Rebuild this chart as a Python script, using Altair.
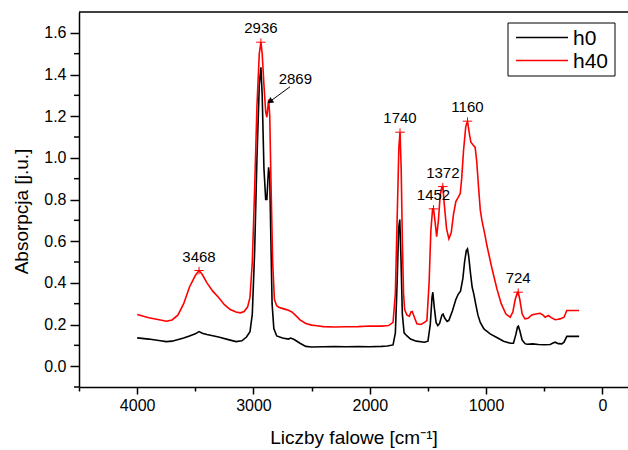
import altair as alt
import pandas as pd

# ---------------- data ----------------
series_names = ["h0", "h40"]
series_colors = ["#000000", "#ff0000"]

h0_x = [4000, 3900, 3800, 3750, 3700, 3600, 3550, 3500, 3468, 3440, 3400, 3300, 3200, 3150, 3100,
        3060, 3030, 3010, 2990, 2970, 2950, 2936, 2925, 2910, 2895, 2885, 2870, 2860, 2850, 2840,
        2825, 2800, 2750, 2700, 2680, 2650, 2600, 2550, 2500, 2400, 2300, 2200, 2100, 2000, 1900,
        1850, 1800, 1780, 1765, 1752, 1742, 1732, 1720, 1705, 1680, 1650, 1600, 1530, 1500, 1480,
        1465, 1458, 1445, 1430, 1415, 1400, 1380, 1370, 1355, 1335, 1320, 1290, 1260, 1240, 1220,
        1200, 1185, 1170, 1160, 1150, 1135, 1120, 1105, 1090, 1070, 1050, 1020, 1000, 965, 900,
        850, 821, 790, 765, 745, 730, 722, 710, 690, 665, 649, 600, 550, 500, 449, 420, 406, 380,
        349, 330, 306, 250, 200]
h0_y = [0.136, 0.130, 0.122, 0.118, 0.120, 0.135, 0.145, 0.155, 0.166, 0.158, 0.152, 0.140, 0.125,
        0.118, 0.122, 0.140, 0.165, 0.25, 0.55, 1.0, 1.35, 1.435, 1.30, 0.95, 0.80, 0.80, 0.955,
        0.90, 0.60, 0.30, 0.18, 0.145, 0.135, 0.130, 0.135, 0.128, 0.110, 0.095, 0.092, 0.093,
        0.094, 0.093, 0.094, 0.093, 0.095, 0.097, 0.102, 0.16, 0.40, 0.66, 0.704, 0.52, 0.25,
        0.16, 0.145, 0.130, 0.120, 0.115, 0.120, 0.20, 0.33, 0.355, 0.28, 0.21, 0.195, 0.205,
        0.245, 0.250, 0.230, 0.215, 0.220, 0.265, 0.320, 0.345, 0.360, 0.420, 0.500, 0.555,
        0.563, 0.530, 0.450, 0.380, 0.345, 0.300, 0.245, 0.210, 0.180, 0.170, 0.155, 0.135,
        0.120, 0.115, 0.110, 0.110, 0.150, 0.188, 0.192, 0.170, 0.125, 0.108, 0.105, 0.107,
        0.104, 0.103, 0.104, 0.112, 0.115, 0.108, 0.107, 0.115, 0.143, 0.143, 0.143]

h40_x = [4000, 3900, 3800, 3750, 3700, 3650, 3600, 3550, 3500, 3468, 3440, 3400, 3350, 3300, 3250,
         3200, 3150, 3113, 3080, 3050, 3030, 3010, 2990, 2970, 2950, 2936, 2925, 2910, 2895, 2885,
         2875, 2869, 2860, 2850, 2835, 2820, 2800, 2783, 2740, 2700, 2670, 2640, 2600, 2550, 2500,
         2454, 2400, 2300, 2200, 2100, 2000, 1900, 1838, 1800, 1780, 1765, 1750, 1740, 1730, 1720,
         1710, 1700, 1680, 1660, 1645, 1635, 1620, 1595, 1560, 1530, 1509, 1490, 1475, 1460, 1452,
         1440, 1425, 1410, 1395, 1380, 1372, 1360, 1340, 1320, 1300, 1280, 1260, 1240, 1222, 1210,
         1194, 1175, 1160, 1145, 1131, 1110, 1094, 1080, 1065, 1050, 1036, 1010, 993, 950, 907,
         870, 830, 793, 770, 750, 730, 724, 710, 690, 666, 640, 610, 593, 560, 535, 510, 492, 475,
         464, 440, 406, 380, 364, 330, 306, 200]
h40_y = [0.248, 0.232, 0.222, 0.216, 0.222, 0.245, 0.300, 0.380, 0.435, 0.459, 0.440, 0.400, 0.360,
         0.330, 0.295, 0.272, 0.260, 0.256, 0.262, 0.285, 0.330, 0.50, 0.85, 1.25, 1.50, 1.555,
         1.50, 1.35, 1.22, 1.195, 1.25, 1.28, 1.20, 0.90, 0.50, 0.32, 0.290, 0.283, 0.275, 0.268,
         0.260, 0.245, 0.222, 0.205, 0.197, 0.194, 0.190, 0.188, 0.189, 0.190, 0.193, 0.192,
         0.195, 0.210, 0.35, 0.70, 1.05, 1.123, 0.95, 0.60, 0.35, 0.270, 0.245, 0.240, 0.260,
         0.262, 0.240, 0.203, 0.200, 0.210, 0.219, 0.40, 0.65, 0.755, 0.755, 0.70, 0.622, 0.70,
         0.82, 0.862, 0.862, 0.78, 0.66, 0.611, 0.64, 0.73, 0.79, 0.810, 0.830, 0.90, 1.035,
         1.15, 1.176, 1.12, 1.075, 1.06, 1.05, 0.98, 0.86, 0.75, 0.70, 0.63, 0.579, 0.470,
         0.371, 0.30, 0.250, 0.235, 0.26, 0.32, 0.355, 0.355, 0.320, 0.250, 0.227, 0.230, 0.245,
         0.248, 0.252, 0.254, 0.245, 0.235, 0.240, 0.243, 0.233, 0.223, 0.225, 0.227, 0.235,
         0.267, 0.267]

# peak markers on h40
peak_x = [3468, 2936, 1740, 1452, 1372, 1160, 724]
peak_y = [0.459, 1.555, 1.123, 0.755, 0.862, 1.176, 0.355]
peak_labels = ["3468", "2936", "1740", "1452", "1372", "1160", "724"]

# arrow annotation for 2869
arrow_label = "2869"
arrow_label_pos = [2640, 1.354]
arrow_from = [2686, 1.341]
arrow_to = [2852, 1.273]

x_ticks = [4500, 4000, 3500, 3000, 2500, 2000, 1500, 1000, 500, 0]
y_major = [0.0, 0.2, 0.4, 0.6, 0.8, 1.0, 1.2, 1.4, 1.6]
y_minor = [-0.1, 0.1, 0.3, 0.5, 0.7, 0.9, 1.1, 1.3, 1.5]

# ---------------- build ----------------
FONT = "Liberation Sans"
df = pd.concat([
    pd.DataFrame({"x": h0_x, "y": h0_y, "series": "h0"}),
    pd.DataFrame({"x": h40_x, "y": h40_y, "series": "h40"}),
])
peaks = pd.DataFrame({"x": peak_x, "y": peak_y, "label": peak_labels})

xscale = alt.Scale(domain=[4500, -220], nice=False, zero=False)
yscale = alt.Scale(domain=[-0.1, 1.7], nice=False, zero=False)

xaxis = alt.Axis(
    title="Liczby falowe [cm⁻¹]", values=x_ticks, format="d",
    labelExpr="datum.value % 1000 === 0 ? datum.label : ''",
    tickSize={"condition": {"test": "datum.value % 1000 !== 0", "value": 4}, "value": 7},
    grid=False, labelFontSize=16, titleFontSize=19, labelPadding=3,
    titleY=56, titleBaseline="alphabetic", labelFlush=False, labelOverlap=False,
)
yaxis = alt.Axis(
    title="Absorpcja [j.u.]", values=y_major, format=".1f", tickSize=9,
    grid=False, labelFontSize=16, titleFontSize=19, labelPadding=4,
    titleX=-58, titleY=199, titleAngle=-90, titleAlign="center", titleBaseline="middle",
    labelFlush=False, labelOverlap=False,
)

lines = alt.Chart(df).mark_line(strokeWidth=1.6, clip=True).encode(
    x=alt.X("x:Q", scale=xscale, axis=xaxis),
    y=alt.Y("y:Q", scale=yscale, axis=yaxis),
    color=alt.Color("series:N", scale=alt.Scale(domain=series_names, range=series_colors), legend=None),
    detail="series:N",
)

# minor y ticks (outside, left of the axis line)
minor_y = alt.Chart(pd.DataFrame({"y": y_minor})).mark_rule(
    color="#000000", strokeWidth=1.5, clip=False
).encode(x=alt.value(-5), x2=alt.value(0), y=alt.Y("y:Q", scale=yscale))

plus = alt.Chart(peaks).mark_point(
    shape="M-1,0H1M0,-0.8V0.8", size=90, color="#ff0000", filled=False, strokeWidth=1, opacity=1
).encode(x=alt.X("x:Q", scale=xscale), y=alt.Y("y:Q", scale=yscale))

peak_text = alt.Chart(peaks).mark_text(
    font=FONT, fontSize=15, color="#000000", baseline="alphabetic", align="center", dy=-9
).encode(x=alt.X("x:Q", scale=xscale), y=alt.Y("y:Q", scale=yscale), text="label:N")

arrow_df = pd.DataFrame({"x": [arrow_from[0], arrow_to[0]], "y": [arrow_from[1], arrow_to[1]], "o": [0, 1]})
arrow_line = alt.Chart(arrow_df).mark_line(color="#000000", strokeWidth=1).encode(
    x=alt.X("x:Q", scale=xscale), y=alt.Y("y:Q", scale=yscale), order="o:Q")
arrow_head = alt.Chart(pd.DataFrame({"x": [arrow_to[0]], "y": [arrow_to[1]]})).mark_point(
    shape="triangle", filled=True, color="#000000", size=45, angle=233, opacity=1, dx=2, dy=-2
).encode(x=alt.X("x:Q", scale=xscale), y=alt.Y("y:Q", scale=yscale))
arrow_text = alt.Chart(pd.DataFrame({"x": [arrow_label_pos[0]], "y": [arrow_label_pos[1]], "t": [arrow_label]})).mark_text(
    font=FONT, fontSize=15, color="#000000", baseline="alphabetic", align="center"
).encode(x=alt.X("x:Q", scale=xscale), y=alt.Y("y:Q", scale=yscale), text="t:N")

top_border = alt.Chart(pd.DataFrame({"y": [1.7]})).mark_rule(color="#000000", strokeWidth=1.5).encode(
    y=alt.Y("y:Q", scale=yscale))

# legend (box, samples, labels)
legend_box = alt.Chart(pd.DataFrame({"a": [0]})).mark_rect(
    fill="#ffffff", stroke="#000000", strokeWidth=1
).encode(x=alt.value(429), x2=alt.value(536), y=alt.value(11), y2=alt.value(64))
legend_layers = [legend_box]
for i, (name, col) in enumerate(zip(series_names, series_colors)):
    yy = 25.5 + 23 * i
    legend_layers.append(
        alt.Chart(pd.DataFrame({"s": [name]})).mark_rule(color=col, strokeWidth=1.5).encode(
            x=alt.value(437), x2=alt.value(489), y=alt.value(yy))
    )
    legend_layers.append(
        alt.Chart(pd.DataFrame({"s": [name]})).mark_text(
            font=FONT, fontSize=21, color="#000000", align="left", baseline="middle", dy=1
        ).encode(x=alt.value(494), y=alt.value(yy), text="s:N")
    )

chart = alt.layer(
    lines, minor_y, top_border, plus, peak_text, arrow_line, arrow_head, arrow_text, *legend_layers
).properties(
    width=549, height=375,
    autosize=alt.AutoSizeParams(type="none"),
    padding={"left": 79, "top": 12, "right": 0, "bottom": 63},
    background="#ffffff",
).configure_view(stroke=None).configure_axis(
    domainColor="#000000", domainWidth=1.5, tickColor="#000000", tickWidth=1.5,
    labelColor="#000000", titleColor="#000000", labelFont=FONT, titleFont=FONT,
    titleFontWeight="normal",
)

chart.save("out.html", embed_options={"renderer": "svg", "actions": False})
